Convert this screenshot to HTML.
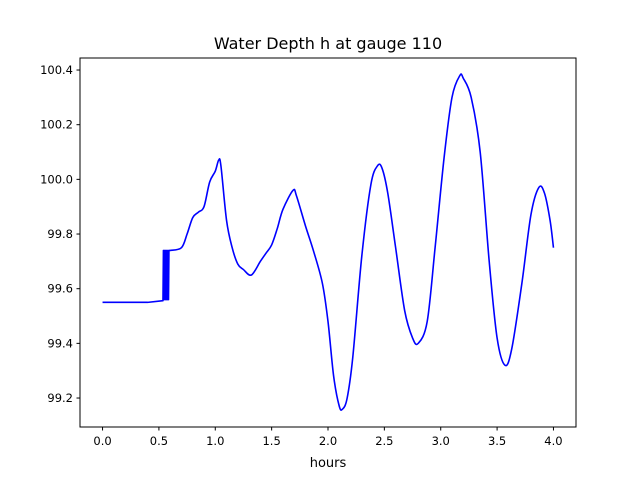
<!DOCTYPE html>
<html><head><meta charset="utf-8"><style>
body{margin:0;background:#fff;font-family:"Liberation Sans","DejaVu Sans",sans-serif}
</style></head><body>
<svg id="chart" width="640" height="480" xmlns="http://www.w3.org/2000/svg" font-family="DejaVu Sans, Liberation Sans, sans-serif">
<rect width="640" height="480" fill="#fff"/>
<text x="328" y="49" font-size="16" text-anchor="middle">Water Depth h at gauge 110</text>
<text x="328" y="467" font-size="13" text-anchor="middle">hours</text>
<g id="plot"></g>
<rect x="80" y="58" width="496" height="369" fill="none" stroke="#000" stroke-width="1"/>
</svg>
<script>
const xs=[0,0.4,0.536,0.54,0.545,0.55,0.555,0.56,0.565,0.57,0.575,0.58,0.585,0.589,0.6,0.7,0.75,0.8,0.85,0.9,0.95,1.0,1.03,1.05,1.1,1.15,1.2,1.25,1.32,1.4,1.45,1.5,1.55,1.6,1.69,1.72,1.8,1.87,1.95,2.0,2.05,2.1,2.13,2.17,2.22,2.3,2.38,2.44,2.48,2.53,2.6,2.68,2.75,2.8,2.88,2.95,3.03,3.1,3.17,3.2,3.27,3.35,3.43,3.5,3.57,3.63,3.72,3.8,3.87,3.92,3.97,4.0];
const ys=[99.55,99.55,99.556,99.74,99.56,99.74,99.56,99.74,99.56,99.74,99.56,99.74,99.56,99.74,99.74,99.75,99.8,99.86,99.88,99.9,99.99,100.03,100.07,100.05,99.85,99.75,99.69,99.67,99.65,99.70,99.73,99.76,99.82,99.89,99.96,99.94,99.83,99.74,99.62,99.48,99.28,99.17,99.16,99.2,99.35,99.72,99.98,100.05,100.04,99.95,99.75,99.52,99.42,99.40,99.48,99.75,100.08,100.3,100.38,100.37,100.3,100.1,99.7,99.42,99.32,99.38,99.62,99.87,99.97,99.95,99.85,99.75];
const xTicks=[0,0.5,1,1.5,2,2.5,3,3.5,4];
const xTickLabels=["0.0","0.5","1.0","1.5","2.0","2.5","3.0","3.5","4.0"];
const yTicks=[99.2,99.4,99.6,99.8,100.0,100.2,100.4];
const yTickLabels=["99.2","99.4","99.6","99.8","100.0","100.2","100.4"];
const X=v=>80+(v+0.2)/4.4*496;
const Y=v=>427-(v-99.094)/(100.444-99.094)*369;
const g=document.getElementById('plot');
const NS='http://www.w3.org/2000/svg';
function mk(t,a){const e=document.createElementNS(NS,t);for(const k in a)e.setAttribute(k,a[k]);g.appendChild(e);return e;}
xTicks.forEach((v,i)=>{
  const l=mk('line',{x1:X(v),x2:X(v),y1:427,y2:430.5,stroke:'#000'});
  
  
  const t=mk('text',{x:X(v),y:445,'font-size':'11.5','text-anchor':'middle'});
  t.textContent=xTickLabels[i];
  
  
});
yTicks.forEach((v,i)=>{
  const l=mk('line',{x1:76.5,x2:80,y1:Y(v),y2:Y(v),stroke:'#000'});
  
  
  const t=mk('text',{x:73,y:Y(v)+4,'font-size':'11.5','text-anchor':'end'});
  t.textContent=yTickLabels[i];
  
  
});
const P=xs.map((v,i)=>[X(v),Y(ys[i])]);
const SPLIT=14;
let d='M'+P[0][0]+','+P[0][1];
for(let i=1;i<=SPLIT;i++)d+=' L'+P[i][0]+','+P[i][1];
for(let i=SPLIT;i<P.length-1;i++){
  const p0=P[Math.max(i-1,SPLIT)],p1=P[i],p2=P[i+1],p3=P[Math.min(i+2,P.length-1)];
  const c1=[p1[0]+(p2[0]-p0[0])/6,p1[1]+(p2[1]-p0[1])/6];
  const c2=[p2[0]-(p3[0]-p1[0])/6,p2[1]-(p3[1]-p1[1])/6];
  d+=' C'+c1[0]+','+c1[1]+' '+c2[0]+','+c2[1]+' '+p2[0]+','+p2[1];
}
const p=mk('path',{d:d,fill:'none',stroke:'#0000ff','stroke-width':'1.6','stroke-linejoin':'round'});


</script>
</body></html>
